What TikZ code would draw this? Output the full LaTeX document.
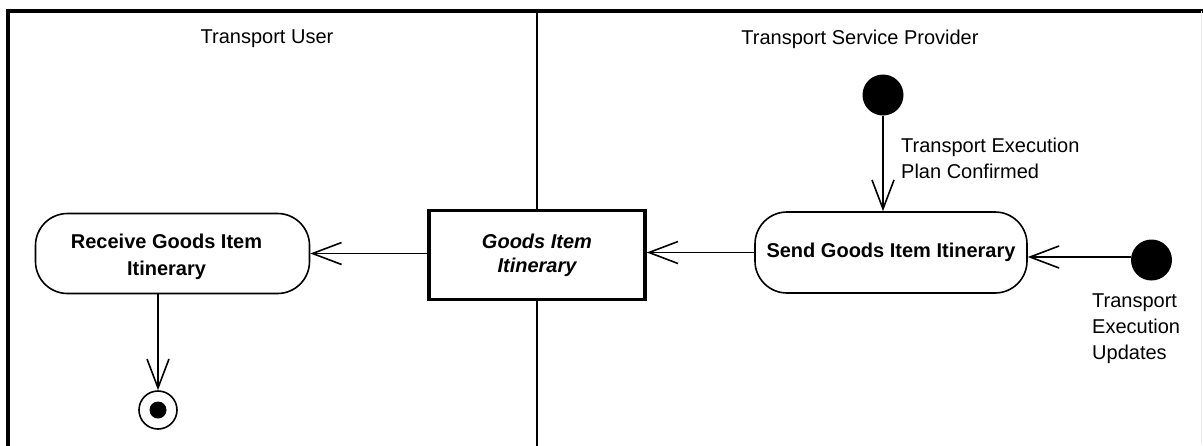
\documentclass[tikz,border=0pt]{standalone}
\usepackage{fontspec}
\setmainfont{Liberation Sans}
\usetikzlibrary{arrows.meta}
\tikzset{
  every node/.style={font=\fontsize{20}{27}\selectfont},
  action/.style={draw, line width=1.6pt, rounded corners=32pt, align=center, inner sep=0pt, font=\fontsize{20}{27}\selectfont\bfseries},
  objbox/.style={draw, line width=3.5pt, align=center, inner sep=0pt, font=\fontsize{20}{24}\selectfont\bfseries\itshape},
  startdot/.style={circle, fill=black, minimum size=41pt, inner sep=0pt},
  enddot/.style={circle, draw, line width=1.6pt, minimum size=38pt, inner sep=0pt},
  flow/.style={line width=1.6pt, -{Straight Barb[length=29pt, width=22pt, line width=1.6pt]}},
  lane/.style={line width=1.4pt},
  frame/.style={line width=3.5pt},
  lbl/.style={align=left, inner sep=0pt, font=\fontsize{20}{26}\selectfont}
}
\begin{document}
\begin{tikzpicture}[x=1pt, y=-1pt]
\useasboundingbox (0,0) rectangle (1203,445);
% frame
\coordinate (fbl) at (8,447);
\coordinate (ftl) at (8,11);
\coordinate (ftr) at (1205,11);
\draw[frame] (fbl) -- (ftl) -- (ftr);
\coordinate (rt) at (1201,11);
\coordinate (rb) at (1201,445);
\draw[gray!15, line width=1pt] (rt) -- (rb);
% lane headers
\node (hu) at (267,39) {Transport User};
\node (hp) at (860,39) {Transport Service Provider};
% nodes
\node[action, minimum width=274pt, minimum height=80pt] (recv) at (172.5,253.5)
  {\raisebox{-8.5pt}[0pt][0pt]{\begin{tabular}{@{}c@{}}Receive Goods Item\\Itinerary\end{tabular}}\hspace{12pt}};
\node[objbox, minimum width=216pt, minimum height=89pt] (goods) at (537,255) {Goods Item\\Itinerary};
\node[action, minimum width=272pt, minimum height=81pt] (send) at (891,252.5) {Send Goods Item Itinerary};
\node[startdot] (init1) at (883,95) {};
\node[startdot] (init2) at (1151.5,260) {};
\node[enddot] (final) at (158,410) {};
\node[circle, fill=black, minimum size=17pt, inner sep=0pt] (finaldot) at (final) {};
\coordinate (i2w) at ([yshift=3pt]init2.west);
% lane divider
\coordinate (ltop) at (537,11);
\coordinate (lbot) at (537,447);
\draw[lane] (ltop) -- (goods.north);
\draw[lane] (goods.south) -- (lbot);
% connectors
\draw[flow] (init1) -- (init1 |- send.north);
\draw[flow] (i2w) -- (send.east |- i2w);
\draw[flow] (send.west) -- (goods.east |- send.west);
\draw[flow] (goods.west |- recv.east) -- (recv.east);
\draw[flow] (recv.south -| final) -- (final.north);
% labels
\node[lbl, anchor=west] (l1) at (901,158) {Transport Execution\\Plan Confirmed};
\node[lbl, anchor=west] (l2) at (1092,329) {Transport\\Execution\\Updates};
\end{tikzpicture}
\end{document}
